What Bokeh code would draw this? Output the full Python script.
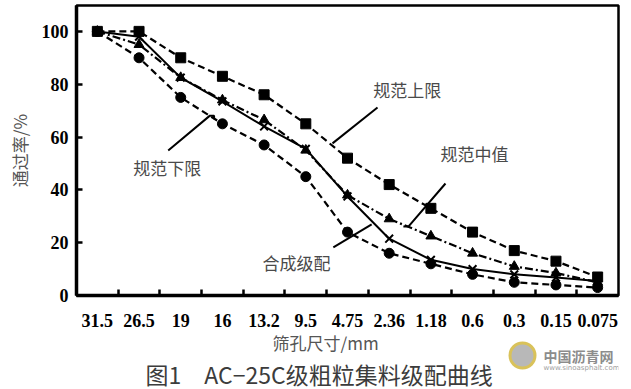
import math
from bokeh.plotting import figure
from bokeh.models import Label, FixedTicker, Range1d
from bokeh.layouts import column
from bokeh.embed import file_html
from bokeh.resources import INLINE

# ---- data ----
sieve_labels = ["31.5", "26.5", "19", "16", "13.2", "9.5", "4.75", "2.36",
                "1.18", "0.6", "0.3", "0.15", "0.075"]
upper = [100, 100, 90, 83, 76, 65, 52, 42, 33, 24, 17, 13, 7]
lower = [100, 90, 75, 65, 57, 45, 24, 16, 12, 8, 5, 4, 3]
middle = [100, 95, 82.5, 74, 66.5, 55, 38, 29, 22.5, 16, 11, 8.5, 5]
synthetic = [100, 98, 82.5, 73.5, 64, 55.5, 37.5, 21.5, 13.5, 10, 8, 6.8, 5.5]
y_ticks = [0, 20, 40, 60, 80, 100]

xs = list(range(len(sieve_labels)))

cjk = "Noto Sans CJK SC"

p = figure(width=631, height=330, output_backend="svg", toolbar_location=None,
           x_range=Range1d(-0.5, 12.5), y_range=Range1d(0, 109.8),
           min_border_left=76, min_border_right=13, min_border_top=5,
           min_border_bottom=35)
p.background_fill_color = "white"
p.border_fill_color = "white"
p.grid.visible = False
p.outline_line_color = "black"
p.outline_line_width = 2.5

# axes
xa = p.xaxis[0]
xa.ticker = FixedTicker(ticks=xs, minor_ticks=[i + 0.5 for i in xs[:-1]])
xa.major_label_overrides = {i: s for i, s in zip(xs, sieve_labels)}
xa.major_tick_line_color = None
xa.minor_tick_in = 6
xa.minor_tick_out = 0
xa.minor_tick_line_width = 2.5
xa.axis_line_width = 3.5
xa.major_label_text_font = "Liberation Serif"
xa.major_label_text_font_style = "bold"
xa.major_label_text_font_size = "18px"
xa.major_label_text_color = "black"
xa.major_label_standoff = 12

ya = p.yaxis[0]
ya.ticker = FixedTicker(ticks=y_ticks, minor_ticks=[])
ya.major_tick_in = 6
ya.major_tick_out = 0
ya.major_tick_line_width = 2.5
ya.minor_tick_line_color = None
ya.axis_line_width = 3.5
ya.major_label_text_font = "Liberation Serif"
ya.major_label_text_font_style = "bold"
ya.major_label_text_font_size = "18px"
ya.major_label_text_color = "black"
ya.major_label_standoff = 8
ya.axis_label = "通过率/%"
ya.axis_label_text_font = cjk
ya.axis_label_text_font_style = "normal"
ya.axis_label_text_font_size = "17px"
ya.axis_label_text_color = "#555555"
ya.axis_label_standoff = 7

# series
p.line(xs, upper, line_color="black", line_width=2.2, line_dash="7 4")
p.scatter(xs, upper, marker="square", size=10, color="black")

p.line(xs, lower, line_color="black", line_width=2.2, line_dash="7 4")
p.scatter(xs, lower, marker="circle", size=10, color="black")

p.line(xs, middle, line_color="black", line_width=2.2, line_dash="8 3 2 3")
p.scatter(xs, middle, marker="triangle", size=10, color="black")

p.line(xs, synthetic, line_color="black", line_width=2)
p.scatter(xs, synthetic, marker="x", size=11, line_color="black", line_width=2)

# leader lines (annotation positions, data units)
leaders = [
    ([6.72, 5.64], [71.2, 57.6]),
    ([8.35, 7.46, 7.34], [42.4, 26.1, 26.1]),
    ([1.70, 2.70, 2.80, 2.80], [54.9, 68.1, 68.1, 66.7]),
    ([5.66, 6.58], [18.2, 26.9]),
]
for lx, ly in leaders:
    p.line(lx, ly, line_color="black", line_width=2)

ann_color = "#4a4a4a"
annotations = [
    ("规范上限", 6.62, 77.9),
    ("规范中值", 8.23, 53.8),
    ("规范下限", 0.86, 48.3),
    ("合成级配", 3.96, 12.5),
]
for t, ax, ay in annotations:
    p.add_layout(Label(x=ax, y=ay, text=t, text_font=cjk,
                       text_font_size="17px", text_color=ann_color,
                       text_baseline="middle", text_align="left"))

# ---- lower strip: x-axis title, caption, watermark ----
# its frame is aligned with the main frame (page x 76..618)
p2 = figure(width=631, height=59, output_backend="svg", toolbar_location=None,
            x_range=Range1d(76, 618), y_range=Range1d(59, 0),
            x_axis_type=None, y_axis_type=None,
            min_border_left=0, min_border_right=0, min_border_top=0,
            min_border_bottom=0)
p2.grid.visible = False
p2.outline_line_color = None
p2.background_fill_color = "white"
p2.border_fill_color = "white"

p2.add_layout(Label(x=272, y=12, text="筛孔尺寸/mm", text_font=cjk,
                    text_font_size="17px", text_color="#555555",
                    text_align="left", text_baseline="middle"))
p2.add_layout(Label(x=145, y=43, text="图1\u3000AC\u221225C级粗粒集料级配曲线",
                    text_font=cjk, text_font_size="23px", text_color="#3c3c3c",
                    text_align="left", text_baseline="middle"))
# watermark
p2.scatter([522], [25], marker="circle", size=25, fill_color="#a6a6a6",
           line_color="#d9c25a", line_width=3, fill_alpha=0.8)
p2.add_layout(Label(x=543, y=25, text="中国沥青网", text_font=cjk,
                    text_font_style="bold", text_font_size="14px",
                    text_color="#8c8c8c", text_align="left",
                    text_baseline="middle"))
p2.add_layout(Label(x=543, y=37, text="www.sinoasphalt.com",
                    text_font="DejaVu Sans", text_font_size="7px",
                    text_color="#a0a0a0", text_align="left",
                    text_baseline="middle"))

layout = column(p, p2, spacing=0)
open("out.html", "w").write(file_html(layout, INLINE))
